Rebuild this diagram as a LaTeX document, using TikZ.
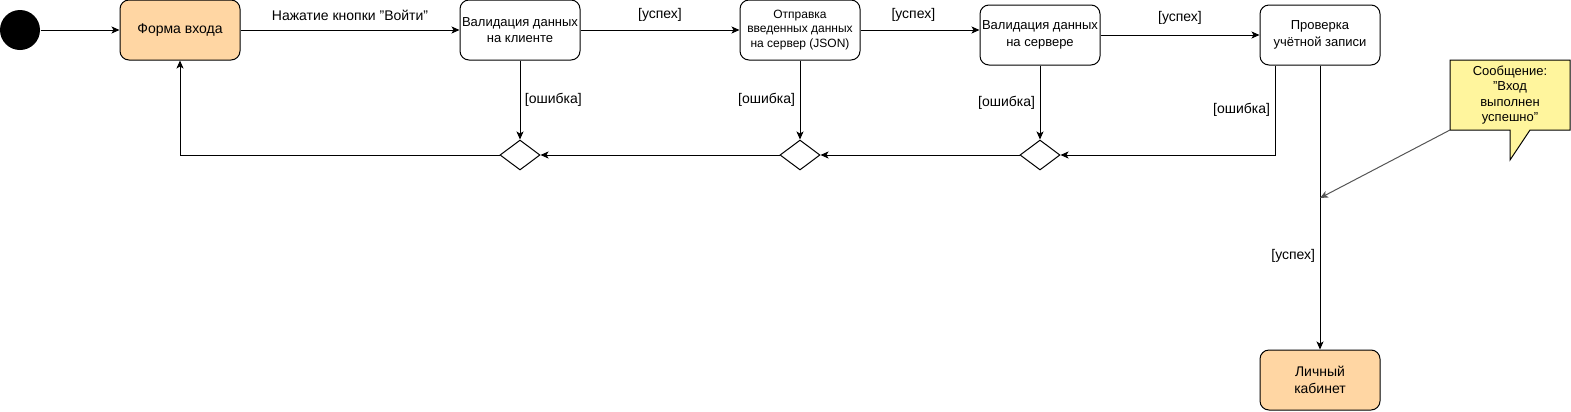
\documentclass[tikz,border=0pt]{standalone}
\usepackage{fontspec}
\setmainfont{Liberation Sans}
\usetikzlibrary{shapes.geometric,arrows.meta}
\definecolor{orangef}{HTML}{FFD6A3}
\definecolor{notef}{HTML}{FFF59D}
\definecolor{notegray}{HTML}{555555}
\begin{document}
\begin{tikzpicture}[x=0.75pt,y=-0.75pt,
  font=\fontsize{10.5pt}{12.6pt}\selectfont,
  every path/.style={line width=0.75pt},
  box/.style={draw, rounded corners=6.75pt, minimum width=90pt, minimum height=45pt, align=center, inner sep=0.5pt,
    font=\fontsize{9.75pt}{12.2pt}\selectfont},
  bigbox/.style={box, font=\fontsize{10.5pt}{12.75pt}\selectfont},
  smallbox/.style={box, font=\fontsize{9pt}{10.9pt}\selectfont},
  dia/.style={draw, diamond, minimum width=30pt, minimum height=22.5pt, inner sep=0pt, fill=white},
  arr/.style={-{Stealth[length=6pt,width=5.25pt,inset=1.5pt]}},
  lab/.style={midway, yshift=11pt, inner sep=0pt}]
\useasboundingbox (0,0) rectangle (1571,411);

\node[circle, fill=black, minimum size=30pt, inner sep=0pt] (start) at (20,30) {};
\node[bigbox, fill=orangef] (form) at (180,30) {Форма входа};
\node[box] (v1) at (520,30) {Валидация данных\\на клиенте};
\node[smallbox] (send) at (800,30) {Отправка\\введенных данных\\на сервер (JSON)};
\node[box] (v2) at (1040,35) {Валидация данных\\на сервере};
\node[box] (check) at (1320,35) {Проверка\\учётной записи};
\node[bigbox, fill=orangef] (cab) at (1320,380) {Личный\\кабинет};

\node[dia] (d1) at (520,155) {};
\node[dia] (d2) at (800,155) {};
\node[dia] (d3) at (1040,155) {};

\draw[fill=notef] (1450,60) -- (1570,60) -- (1570,130) -- (1530,130) -- (1510,160) -- (1510,130) -- (1450,130) -- cycle;
\node[align=center, font=\fontsize{9.75pt}{11.6pt}\selectfont] (note) at (1510,95) {Сообщение:\\"Вход\\выполнен\\успешно"};
\coordinate (nc) at (1450,130);
\coordinate (ca) at (1320,198);

\draw[arr] (start) -- (form);
\draw[arr] (form) -- node[lab]{Нажатие кнопки "Войти"} (v1);
\draw[arr] (v1) -- node[lab]{[успех]} (send);
\draw[arr] (send.east) -- node[lab, xshift=-5pt]{[успех]} (send.east -| v2.west);
\draw[arr] (v2) -- node[lab, yshift=1.5pt]{[успех]} (check);

\draw[arr] (v1) -- node[midway, right]{[ошибка]} (d1);
\draw[arr] (send) -- node[midway, left]{[ошибка]} (d2);
\draw[arr] (v2) -- node[midway, left]{[ошибка]} (d3);
\draw[arr] ([xshift=-33.75pt]check.south) |- node[pos=0.25, left]{[ошибка]} (d3.east);
\draw[arr] (d3) -- (d2);
\draw[arr] (d2) -- (d1);
\draw[arr] (d1.west) -| (form.south);

\draw[arr] (check) -- node[pos=0.67, left]{[успех]} (cab);
\draw[arr, notegray] (nc) -- (ca);
\end{tikzpicture}
\end{document}
